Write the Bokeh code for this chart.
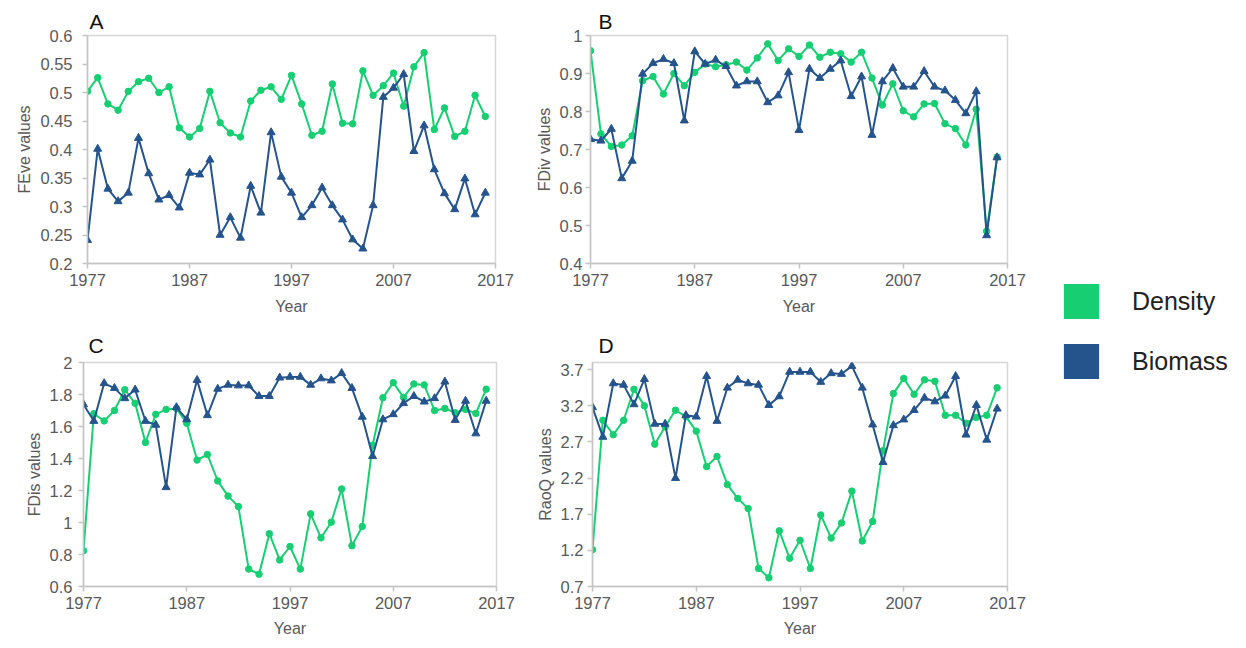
from bokeh.plotting import figure
from bokeh.models import FixedTicker, Range1d, Legend, LegendItem
from bokeh.layouts import row, column
from bokeh.embed import file_html
from bokeh.resources import INLINE

# ---------------- data ----------------
years = [1977, 1978, 1979, 1980, 1981, 1982, 1983, 1984, 1985, 1986,
         1987, 1988, 1989, 1990, 1991, 1992, 1993, 1994, 1995, 1996,
         1997, 1998, 1999, 2000, 2001, 2002, 2003, 2004, 2005, 2006,
         2007, 2008, 2009, 2010, 2011, 2012, 2013, 2014, 2015, 2016]

feve_density = [0.502, 0.526, 0.480, 0.469, 0.502, 0.519, 0.525, 0.500, 0.510, 0.438,
                0.422, 0.437, 0.502, 0.447, 0.429, 0.422, 0.485, 0.504, 0.510, 0.488,
                0.530, 0.480, 0.425, 0.432, 0.515, 0.446, 0.445, 0.538, 0.495, 0.512,
                0.534, 0.476, 0.545, 0.570, 0.435, 0.473, 0.423, 0.432, 0.495, 0.458]
feve_biomass = [0.241, 0.401, 0.331, 0.309, 0.324, 0.420, 0.358, 0.312, 0.320, 0.298,
                0.359, 0.356, 0.382, 0.250, 0.281, 0.245, 0.336, 0.289, 0.430, 0.352,
                0.324, 0.281, 0.302, 0.333, 0.302, 0.277, 0.242, 0.226, 0.302, 0.492,
                0.508, 0.532, 0.397, 0.442, 0.365, 0.323, 0.295, 0.349, 0.286, 0.324]

fdiv_density = [0.960, 0.741, 0.708, 0.712, 0.736, 0.881, 0.892, 0.846, 0.900, 0.868,
                0.903, 0.925, 0.918, 0.923, 0.930, 0.909, 0.941, 0.978, 0.934, 0.965,
                0.945, 0.975, 0.943, 0.956, 0.952, 0.930, 0.956, 0.888, 0.817, 0.873,
                0.802, 0.786, 0.820, 0.821, 0.768, 0.755, 0.712, 0.806, 0.485, 0.680]
fdiv_biomass = [0.727, 0.723, 0.754, 0.624, 0.670, 0.899, 0.927, 0.938, 0.927, 0.776,
                0.958, 0.925, 0.936, 0.919, 0.868, 0.879, 0.879, 0.824, 0.842, 0.903,
                0.751, 0.912, 0.888, 0.912, 0.934, 0.840, 0.892, 0.738, 0.879, 0.914,
                0.865, 0.865, 0.906, 0.865, 0.855, 0.830, 0.795, 0.853, 0.474, 0.679]

fdis_density = [0.824, 1.680, 1.635, 1.700, 1.830, 1.745, 1.500, 1.676, 1.707, 1.713,
                1.620, 1.390, 1.425, 1.260, 1.165, 1.100, 0.709, 0.677, 0.930, 0.766,
                0.850, 0.709, 1.054, 0.904, 1.002, 1.210, 0.855, 0.975, 1.483, 1.780,
                1.874, 1.782, 1.866, 1.860, 1.700, 1.713, 1.686, 1.707, 1.682, 1.833]
fdis_biomass = [1.738, 1.634, 1.870, 1.840, 1.776, 1.830, 1.634, 1.610, 1.220, 1.720,
                1.644, 1.890, 1.670, 1.835, 1.860, 1.856, 1.856, 1.790, 1.790, 1.905,
                1.910, 1.910, 1.860, 1.900, 1.887, 1.933, 1.840, 1.660, 1.414, 1.644,
                1.676, 1.745, 1.790, 1.755, 1.776, 1.880, 1.640, 1.760, 1.556, 1.760]

raoq_density = [1.21, 3.00, 2.80, 3.00, 3.43, 3.20, 2.67, 2.91, 3.14, 3.05,
                2.85, 2.36, 2.50, 2.11, 1.92, 1.78, 0.95, 0.82, 1.47, 1.09,
                1.34, 0.95, 1.69, 1.37, 1.58, 2.02, 1.33, 1.60, 2.58, 3.37,
                3.58, 3.36, 3.56, 3.54, 3.07, 3.07, 2.96, 3.04, 3.07, 3.45]
raoq_biomass = [3.18, 2.77, 3.51, 3.49, 3.22, 3.57, 2.95, 2.95, 2.20, 3.07,
                3.05, 3.61, 2.99, 3.45, 3.56, 3.51, 3.49, 3.21, 3.33, 3.67,
                3.67, 3.67, 3.53, 3.65, 3.64, 3.75, 3.45, 2.94, 2.42, 2.93,
                3.01, 3.14, 3.31, 3.26, 3.34, 3.61, 2.80, 3.21, 2.73, 3.16]

x_ticks = [1977, 1987, 1997, 2007, 2017]
x_tick_labels = ["1977", "1987", "1997", "2007", "2017"]

feve_ticks = [0.2, 0.25, 0.3, 0.35, 0.4, 0.45, 0.5, 0.55, 0.6]
feve_labels = ["0.2", "0.25", "0.3", "0.35", "0.4", "0.45", "0.5", "0.55", "0.6"]
fdiv_ticks = [0.4, 0.5, 0.6, 0.7, 0.8, 0.9, 1.0]
fdiv_labels = ["0.4", "0.5", "0.6", "0.7", "0.8", "0.9", "1"]
fdis_ticks = [0.6, 0.8, 1.0, 1.2, 1.4, 1.6, 1.8, 2.0]
fdis_labels = ["0.6", "0.8", "1", "1.2", "1.4", "1.6", "1.8", "2"]
raoq_ticks = [0.7, 1.2, 1.7, 2.2, 2.7, 3.2, 3.7]
raoq_labels = ["0.7", "1.2", "1.7", "2.2", "2.7", "3.2", "3.7"]

series_names = ["Density", "Biomass"]

# ---------------- style ----------------
GREEN = "#17CF72"
BLUE = "#25538C"
FONT = "Liberation Sans"
GREY_TXT = "#595959"
GREY_LINE = "#c4c4c4"


def panel(letter, dens, bio, yr, yticks, ylabels, ylabel, w, h, ml, mr, mt, mb,
          ystand, toff, tstand, xlab_stand):
    p = figure(width=w, height=h, x_range=Range1d(1977, 2017), y_range=Range1d(*yr),
               output_backend="svg", toolbar_location=None,
               min_border_left=ml, min_border_right=mr,
               min_border_top=mt, min_border_bottom=mb,
               x_axis_label="Year", y_axis_label=ylabel)
    p.grid.visible = False
    p.outline_line_color = "#d6d6d6"
    p.outline_line_width = 1.5
    p.background_fill_color = "white"
    p.border_fill_color = "white"

    p.title.text = letter
    p.title.text_font = FONT
    p.title.text_font_size = "21px"
    p.title.text_font_style = "normal"
    p.title.text_color = "#111111"
    p.title.align = "left"
    p.title.offset = toff
    p.title.standoff = tstand

    xa = p.xaxis[0]
    ya = p.yaxis[0]
    xa.ticker = FixedTicker(ticks=x_ticks)
    xa.major_label_overrides = dict(zip(x_ticks, x_tick_labels))
    ya.ticker = FixedTicker(ticks=yticks)
    ya.major_label_overrides = dict(zip(yticks, ylabels))
    for ax in (xa, ya):
        ax.axis_line_color = GREY_LINE
        ax.axis_line_width = 1.5
        ax.major_tick_line_color = GREY_LINE
        ax.major_tick_line_width = 1.5
        ax.minor_tick_line_color = None
        ax.major_tick_in = 0
        ax.major_tick_out = 5
        ax.major_label_text_font = FONT
        ax.major_label_text_font_size = "16.5px"
        ax.major_label_text_color = GREY_TXT
        ax.axis_label_text_font = FONT
        ax.axis_label_text_font_size = "16px"
        ax.axis_label_text_font_style = "normal"
        ax.axis_label_text_color = GREY_TXT
    xa.major_label_standoff = 5
    xa.axis_label_standoff = xlab_stand
    ya.major_label_standoff = ystand
    ya.axis_label_standoff = 4

    p.line(years, dens, line_color=GREEN, line_width=2)
    p.scatter(years, dens, marker="circle", size=6.5, fill_color=GREEN, line_color=GREEN)
    p.line(years, bio, line_color=BLUE, line_width=2)
    p.scatter(years, bio, marker="triangle", size=8, fill_color=BLUE, line_color=BLUE)
    return p


pA = panel("A", feve_density, feve_biomass, (0.2, 0.6), feve_ticks, feve_labels,
           "FEve values", 520, 323, 87, 25, 35, 60, 10, 2, 5, 9)
pB = panel("B", fdiv_density, fdiv_biomass, (0.4, 1.0), fdiv_ticks, fdiv_labels,
           "FDiv values", 520, 323, 70, 33, 35, 60, 3, 8, 5, 9)
pC = panel("C", fdis_density, fdis_biomass, (0.6, 2.0), fdis_ticks, fdis_labels,
           "FDis values", 520, 323, 83, 24, 39, 60, 6, 5, 12, 8)
pD = panel("D", raoq_density, raoq_biomass, (0.7, 3.8), raoq_ticks, raoq_labels,
           "RaoQ values", 520, 323, 72, 33, 39, 60, 4, 6, 12, 8)

# ---------------- legend panel ----------------
nan = float("nan")
pl = figure(width=200, height=646, output_backend="svg", toolbar_location=None,
            x_axis_location=None, y_axis_location=None,
            x_range=Range1d(0, 1), y_range=Range1d(0, 1),
            min_border_left=0, min_border_right=0, min_border_top=0, min_border_bottom=0)
pl.grid.visible = False
pl.outline_line_color = None
pl.background_fill_color = "white"
pl.border_fill_color = "white"
r_d = pl.quad(left=[nan], right=[nan], top=[nan], bottom=[nan],
              fill_color=GREEN, line_color=None)
r_b = pl.quad(left=[nan], right=[nan], top=[nan], bottom=[nan],
              fill_color=BLUE, line_color=None)
leg = Legend(items=[LegendItem(label=series_names[0], renderers=[r_d]),
                    LegendItem(label=series_names[1], renderers=[r_b])],
             location=(19, 263), orientation="vertical",
             glyph_width=44, glyph_height=44, spacing=16, padding=0, margin=0,
             label_standoff=29, label_text_font=FONT, label_text_font_size="25px",
             label_text_color="#222222", border_line_color=None,
             background_fill_alpha=0)
pl.add_layout(leg, "center")

layout = row(column(row(pA, pB), row(pC, pD)), pl)

open("out.html", "w").write(file_html(layout, INLINE))
